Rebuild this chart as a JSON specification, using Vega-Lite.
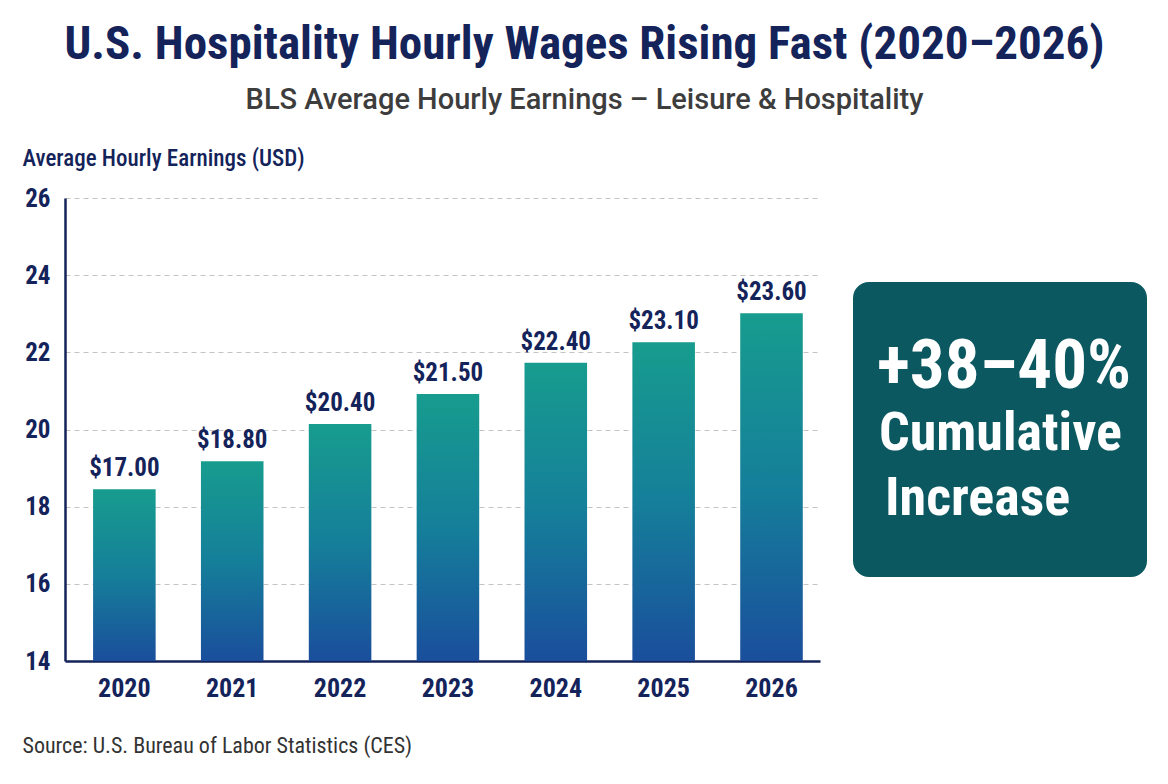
{
  "$schema": "https://vega.github.io/schema/vega-lite/v6.json",
  "description": "U.S. hospitality hourly wages, bars with a callout box",
  "background": "white",
  "padding": {"left": 22, "top": 21, "right": 21, "bottom": 10},
  "title": {
    "text": "U.S. Hospitality Hourly Wages Rising Fast (2020–2026)",
    "subtitle": "BLS Average Hourly Earnings – Leisure & Hospitality",
    "anchor": "middle",
    "font": "Roboto Condensed, Roboto",
    "fontSize": 47,
    "fontWeight": "bold",
    "color": "#14235a",
    "subtitleFont": "Roboto",
    "subtitleFontSize": 29,
    "subtitleFontWeight": 500,
    "subtitleColor": "#3d3d3d",
    "subtitlePadding": 17,
    "offset": 31
  },
  "hconcat": [
    {
      "width": 755,
      "height": 463,
      "data": {
        "values": [
          {"year": "2020", "wage": 18.45, "label": "$17.00"},
          {"year": "2021", "wage": 19.18, "label": "$18.80"},
          {"year": "2022", "wage": 20.14, "label": "$20.40"},
          {"year": "2023", "wage": 20.92, "label": "$21.50"},
          {"year": "2024", "wage": 21.73, "label": "$22.40"},
          {"year": "2025", "wage": 22.26, "label": "$23.10"},
          {"year": "2026", "wage": 23.01, "label": "$23.60"}
        ]
      },
      "encoding": {
        "x": {
          "field": "year",
          "type": "ordinal",
          "scale": {"paddingInner": 0.42, "paddingOuter": 0.21, "align": 0.62},
          "axis": {
            "title": "Source: U.S. Bureau of Labor Statistics (CES)",
            "titleFont": "Roboto Condensed, Roboto",
            "titleFontSize": 22,
            "titleFontWeight": "normal",
            "titleColor": "#333333",
            "titleAnchor": "start",
            "titleAlign": "left",
            "titleBaseline": "middle",
            "titleX": -43,
            "titleY": 84,
            "labelAngle": 0,
            "labelFont": "Roboto Condensed, Roboto",
            "labelFontSize": 26,
            "labelFontWeight": "bold",
            "labelColor": "#14235a",
            "labelPadding": 14,
            "ticks": false,
            "domainColor": "#14235a",
            "domainWidth": 2.5
          }
        },
        "y": {
          "field": "wage",
          "type": "quantitative",
          "scale": {"domain": [14, 26], "zero": false, "nice": false},
          "axis": {
            "values": [14, 16, 18, 20, 22, 24, 26],
            "title": "Average Hourly Earnings (USD)",
            "titleFont": "Roboto Condensed, Roboto",
            "titleFontSize": 23,
            "titleFontWeight": 500,
            "titleColor": "#14235a",
            "titleAngle": 0,
            "titleAlign": "left",
            "titleBaseline": "middle",
            "titleX": -43,
            "titleY": -40,
            "labelFont": "Roboto Condensed, Roboto",
            "labelFontSize": 25,
            "labelFontWeight": "bold",
            "labelColor": "#14235a",
            "labelPadding": 15,
            "ticks": false,
            "domainColor": "#14235a",
            "domainWidth": 2.5,
            "grid": true,
            "gridColor": "#c4c4c4",
            "gridDash": [5, 4],
            "gridWidth": 1
          }
        }
      },
      "layer": [
        {
          "mark": {
            "type": "bar",
            "color": {
              "gradient": "linear",
              "x1": 0, "y1": 0, "x2": 0, "y2": 1,
              "stops": [
                {"offset": 0, "color": "#179c8e"},
                {"offset": 0.5, "color": "#157f9a"},
                {"offset": 1, "color": "#1a4e9c"}
              ]
            }
          },
          "encoding": {"y2": {"datum": 14}}
        },
        {
          "mark": {
            "type": "text",
            "baseline": "alphabetic",
            "dy": -13,
            "font": "Roboto Condensed, Roboto",
            "fontSize": 25,
            "fontWeight": "bold",
            "color": "#14235a"
          },
          "encoding": {"text": {"field": "label"}}
        }
      ]
    },
    {
      "width": 294,
      "height": 295,
      "data": {
        "values": [
          {"part": "headline", "text": "+38–40%"},
          {"part": "line1", "text": "Cumulative"},
          {"part": "line2", "text": "Increase"}
        ]
      },
      "layer": [
        {
          "transform": [{"filter": "datum.part === 'headline'"}],
          "mark": {"type": "rect", "color": "#0c5860", "cornerRadius": 16},
          "encoding": {}
        },
        {
          "transform": [{"filter": "datum.part === 'headline'"}],
          "mark": {
            "type": "text",
            "align": "left",
            "baseline": "alphabetic",
            "dx": -123,
            "dy": -42,
            "font": "Roboto Condensed, Roboto",
            "fontSize": 69,
            "fontWeight": "bold",
            "color": "white"
          },
          "encoding": {"text": {"field": "text"}}
        },
        {
          "transform": [{"filter": "datum.part === 'line1'"}],
          "mark": {
            "type": "text",
            "align": "left",
            "baseline": "alphabetic",
            "dx": -121,
            "dy": 20,
            "font": "Roboto Condensed, Roboto",
            "fontSize": 54,
            "fontWeight": "bold",
            "color": "white"
          },
          "encoding": {"text": {"field": "text"}}
        },
        {
          "transform": [{"filter": "datum.part === 'line2'"}],
          "mark": {
            "type": "text",
            "align": "left",
            "baseline": "alphabetic",
            "dx": -115,
            "dy": 85,
            "font": "Roboto Condensed, Roboto",
            "fontSize": 54,
            "fontWeight": "bold",
            "color": "white"
          },
          "encoding": {"text": {"field": "text"}}
        }
      ]
    }
  ],
  "spacing": 33,
  "center": true,
  "bounds": "flush",
  "config": {
    "view": {"stroke": null},
    "font": "Roboto"
  }
}
